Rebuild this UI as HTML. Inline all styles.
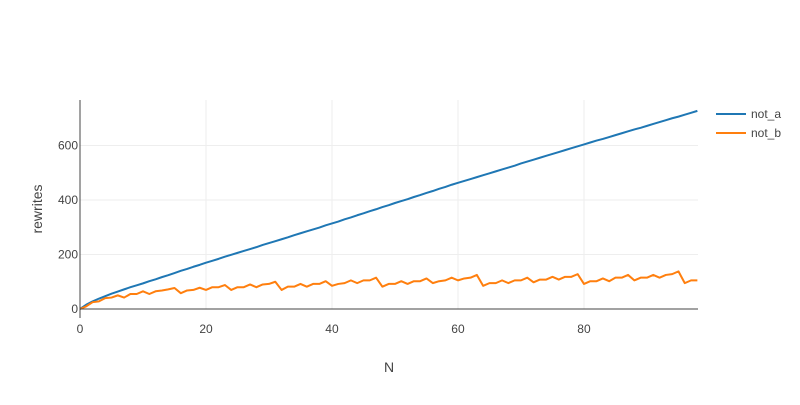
<!DOCTYPE html>
<html><head><meta charset="utf-8"><style>
body{margin:0;background:#fff;}
svg text{font-family:"Liberation Sans",Arial,sans-serif;fill:#444;}
</style></head><body>
<svg id="chart" width="800" height="400" xmlns="http://www.w3.org/2000/svg">
<g id="grid"></g>
<g id="series"></g>
<g id="axes"></g>
<text x="42" y="209" font-size="14" text-anchor="middle" transform="rotate(-90 42 209)">rewrites</text>
<text x="389" y="372" font-size="14" text-anchor="middle">N</text>
<g>
<g><line x1="716" y1="114" x2="746" y2="114" stroke="#1f77b4" stroke-width="2"/><text x="751" y="118" font-size="12">not_a</text></g>
<g><line x1="716" y1="133" x2="746" y2="133" stroke="#ff7f0e" stroke-width="2"/><text x="751" y="137" font-size="12">not_b</text></g>
</g>
</svg>
<script>
const notA=[0,16,28,38,47,56,64,72,80,87,94,102,109,117,124,132,140,147,155,162,170,177,184,192,199,206,213,220,227,235,242,249,256,263,271,278,285,292,299,307,314,321,329,336,344,351,359,366,374,381,389,396,403,411,418,426,433,441,448,456,463,470,477,484,491,498,505,512,519,526,534,541,548,555,562,569,576,583,590,597,604,611,618,624,631,638,645,652,659,665,672,679,686,693,700,706,713,720,727];
const notB=[0,10,25,28,40,42,50,42,55,55,65,55,65,68,72,77,58,68,70,78,70,80,80,88,70,80,80,90,80,90,92,100,70,82,82,92,82,92,92,102,85,92,95,105,95,105,105,115,82,92,92,102,92,102,102,112,95,102,105,115,105,112,115,125,85,95,95,105,95,105,105,115,98,108,108,118,108,118,118,128,92,102,102,112,102,115,115,125,105,115,115,125,115,125,128,138,95,105,105];
const xTicks=[0,20,40,60,80];
const yTicks=[0,200,400,600];
const NS="http://www.w3.org/2000/svg";
const X0=80,X1=698,XMAX=98.1,Y0=309,YS=0.2725;
function xs(v){return X0+(X1-X0)*v/XMAX;}
function ys(v){return Y0-v*YS;}
function mk(tag,attrs,parent){const e=document.createElementNS(NS,tag);for(const k in attrs)e.setAttribute(k,attrs[k]);parent.appendChild(e);return e;}
const grid=document.getElementById('grid'),axes=document.getElementById('axes'),ser=document.getElementById('series');
xTicks.forEach(t=>{
  if(t>0){const g=mk('line',{x1:xs(t),x2:xs(t),y1:100,y2:Y0,stroke:'#eee'},grid);
  
  }
  const l=mk('text',{x:xs(t),y:333,'font-size':12,'text-anchor':'middle'},axes);l.textContent=t;
  
  
});
yTicks.forEach(t=>{
  if(t>0){const g=mk('line',{x1:X0,x2:X1,y1:ys(t),y2:ys(t),stroke:'#eee'},grid);
  
  }
  const l=mk('text',{x:X0-2,y:ys(t)+4,'font-size':12,'text-anchor':'end'},axes);l.textContent=t;
  
  
});
const xa=mk('line',{x1:X0,x2:X1,y1:Y0,y2:Y0,stroke:'#444','stroke-width':1},axes);


const ya=mk('line',{x1:X0,x2:X0,y1:100,y2:318,stroke:'#444','stroke-width':1},axes);


function path(arr,color,name){
  const d=arr.map((v,i)=>(i?'L':'M')+xs(i).toFixed(2)+','+ys(v).toFixed(2)).join('');
  const p=mk('path',{d:d,fill:'none',stroke:color,'stroke-width':2,'stroke-linejoin':'round'},ser);
  
  
}
path(notA,'#1f77b4','line-not-a');
path(notB,'#ff7f0e','line-not-b');
</script>
</body></html>
